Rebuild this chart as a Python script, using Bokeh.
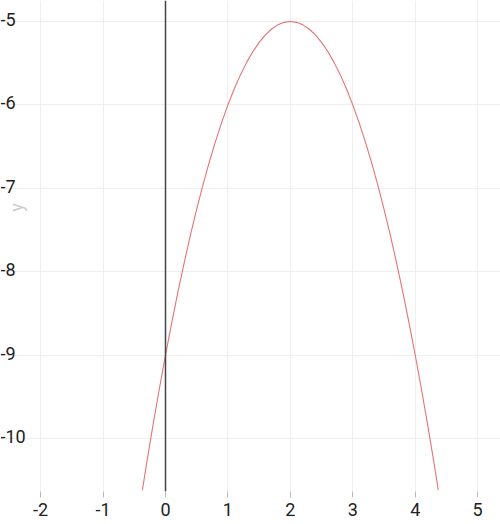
import math
from bokeh.plotting import figure
from bokeh.models import Range1d, FixedTicker, Span, ColumnDataSource
from bokeh.core.properties import value
from bokeh.embed import file_html
from bokeh.resources import INLINE

# curve points
curve_x = [-0.37, -0.3, -0.2, -0.1, 0.0, 0.1, 0.2, 0.3, 0.4, 0.5, 0.6, 0.7, 0.8, 0.9,
           1.0, 1.1, 1.2, 1.3, 1.4, 1.5, 1.6, 1.7, 1.8, 1.9, 2.0, 2.1, 2.2, 2.3, 2.4,
           2.5, 2.6, 2.7, 2.8, 2.9, 3.0, 3.1, 3.2, 3.3, 3.4, 3.5, 3.6, 3.7, 3.8, 3.9,
           4.0, 4.1, 4.2, 4.3, 4.37]
curve_y = [-10.62, -10.29, -9.84, -9.41, -9.00, -8.61, -8.24, -7.89, -7.56, -7.25,
           -6.96, -6.69, -6.44, -6.21, -6.00, -5.81, -5.64, -5.49, -5.36, -5.25,
           -5.16, -5.09, -5.04, -5.01, -5.00, -5.01, -5.04, -5.09, -5.16, -5.25,
           -5.36, -5.49, -5.64, -5.81, -6.00, -6.21, -6.44, -6.69, -6.96, -7.25,
           -7.56, -7.89, -8.24, -8.61, -9.00, -9.41, -9.84, -10.29, -10.62]

x_ticks = [-2, -1, 0, 1, 2, 3, 4, 5]
x_tick_labels = ["-2", "-1", "0", "1", "2", "3", "4", "5"]
y_ticks = [-5, -6, -7, -8, -9, -10]
y_tick_labels = ["-5", "-6", "-7", "-8", "-9", "-10"]
y_axis_title = "y"

X_START, X_END = -2.643, 5.366
Y_START, Y_END = -10.636, -4.748

p = figure(width=500, height=524, output_backend="svg", toolbar_location=None,
           x_range=Range1d(X_START, X_END), y_range=Range1d(Y_START, Y_END),
           y_axis_location=None, min_border_left=0, min_border_right=0,
           min_border_top=0, min_border_bottom=33)
p.outline_line_color = None
p.background_fill_color = "white"
p.border_fill_color = "white"

# grids
p.xgrid.ticker = FixedTicker(ticks=x_ticks)
p.ygrid.ticker = FixedTicker(ticks=y_ticks)
for g in (p.xgrid, p.ygrid):
    g.grid_line_color = "#eeeeee"
    g.grid_line_width = 1

# x axis
ax = p.xaxis[0]
ax.ticker = FixedTicker(ticks=x_ticks)
ax.major_label_overrides = {t: s for t, s in zip(x_ticks, x_tick_labels)}
ax.axis_line_color = None
ax.major_tick_in = 0
ax.major_tick_out = 6
ax.major_tick_line_color = "#bbbbbb"
ax.minor_tick_line_color = None
ax.major_label_text_font = "Roboto"
ax.major_label_text_font_size = "18px"
ax.major_label_text_color = "#222222"
ax.major_label_text_align = "left"
ax.major_label_standoff = 5

# vertical line at x = 0
p.add_layout(Span(location=0, dimension="height", line_color="#444444", line_width=1.5))

# curve
p.line(curve_x, curve_y, line_color="#e57373", line_width=1.1)

# y tick labels drawn inside the plot, baseline on grid line
ysrc = ColumnDataSource(dict(x=[X_START] * len(y_ticks), y=y_ticks, t=y_tick_labels))
p.text(x="x", y="y", text="t", source=ysrc, text_font=value("Roboto"),
       text_font_size="18px", text_color="#222222", text_align="left",
       text_baseline="alphabetic", y_offset=-2)

# y axis title
p.text(x=[-2.387], y=[-7.23], text=[y_axis_title], text_font=value("Roboto"),
       text_font_size="18px", text_color="#cccccc", text_align="center",
       text_baseline="middle", angle=math.pi / 2)

open("out.html", "w").write(file_html(p, INLINE))
